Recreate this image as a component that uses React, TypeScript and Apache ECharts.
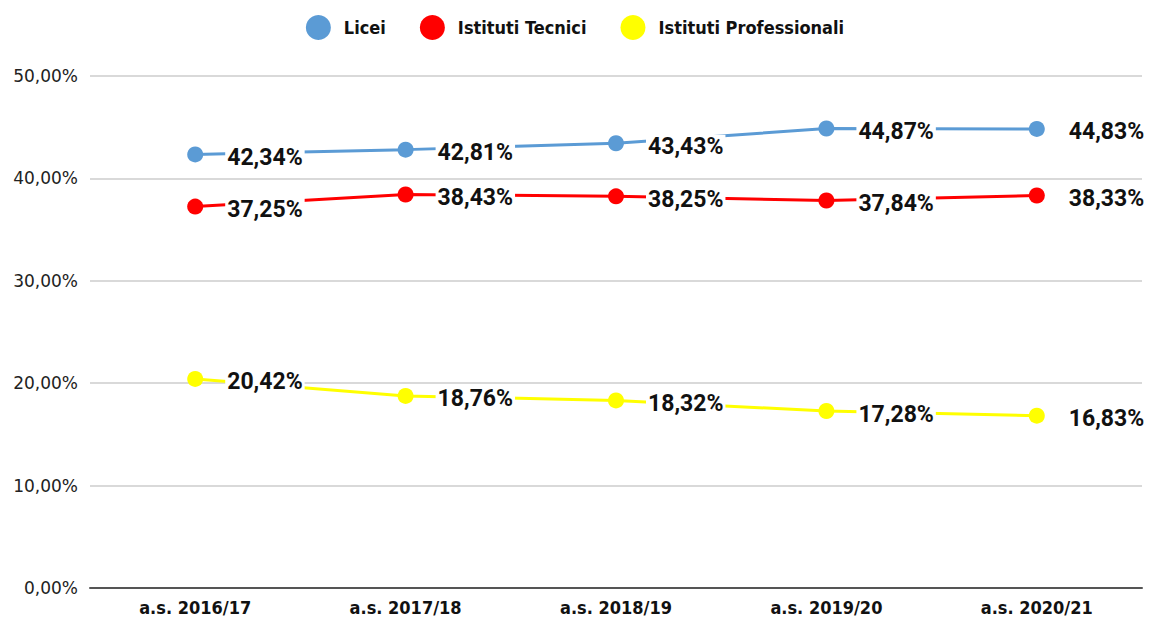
import React, { useEffect, useRef } from "react";
import * as echarts from "echarts";

const categories = ["a.s. 2016/17", "a.s. 2017/18", "a.s. 2018/19", "a.s. 2019/20", "a.s. 2020/21"];
const licei = [42.34, 42.81, 43.43, 44.87, 44.83];
const tecnici = [37.25, 38.43, 38.25, 37.84, 38.33];
const professionali = [20.42, 18.76, 18.32, 17.28, 16.83];
const seriesNames = ["Licei", "Istituti Tecnici", "Istituti Professionali"];
const colors = ["#5b9bd5", "#ff0000", "#ffff00"];

const fmt = (v: number) => v.toFixed(2).replace(".", ",") + "%";
const condensed = "'DejaVu Sans Condensed', 'Liberation Sans', sans-serif";

export default function App() {
  const ref = useRef<HTMLDivElement>(null);
  useEffect(() => {
    const chart = echarts.init(ref.current!, undefined, { renderer: "svg" });
    const mk = (name: string, data: number[], color: string) => ({
      name,
      type: "line",
      data,
      symbol: "circle",
      symbolSize: 16,
      itemStyle: { color },
      lineStyle: { color, width: 3 },
      z: 2,
      label: {
        show: true,
        position: "right",
        distance: 22,
        offset: [0, 3],
        formatter: (p: any) => fmt(p.value),
        fontFamily: "Roboto",
        fontWeight: "bold",
        fontSize: 23,
        color: "#111",
        backgroundColor: "#fff",
        padding: [0, 2],
      },
    });
    chart.setOption({
      animation: false,
      backgroundColor: "#fff",
      color: colors,
      legend: {
        top: 10,
        left: "center",
        itemWidth: 25,
        itemHeight: 25,
        itemGap: 34,
        icon: "circle",
        textStyle: {
          fontFamily: condensed,
          fontWeight: "bold",
          fontSize: 18,
          color: "#111",
          padding: [0, 0, 0, 8],
        },
        data: seriesNames,
      },
      grid: { left: 90, right: 8, top: 76, bottom: 34, containLabel: false },
      xAxis: {
        type: "category",
        data: categories,
        boundaryGap: true,
        axisTick: { show: false },
        axisLine: { lineStyle: { color: "#555", width: 2 } },
        axisLabel: {
          fontFamily: condensed,
          fontWeight: "bold",
          fontSize: 18,
          color: "#111",
          margin: 10,
        },
      },
      yAxis: {
        type: "value",
        min: 0,
        max: 50,
        interval: 10,
        axisLine: { show: false },
        axisTick: { show: false },
        splitLine: { lineStyle: { color: "#cccccc", width: 1.5 } },
        axisLabel: {
          formatter: (v: number) => fmt(v),
          fontFamily: "DejaVu Sans",
          fontSize: 17,
          color: "#222",
          margin: 12,
        },
      },
      series: [
        mk(seriesNames[0], licei, colors[0]),
        mk(seriesNames[1], tecnici, colors[1]),
        mk(seriesNames[2], professionali, colors[2]),
      ],
    });
    return () => chart.dispose();
  }, []);
  return (
    <div
      ref={ref}
      style={{ position: "fixed", left: 0, top: 0, width: 1150, height: 622 }}
    />
  );
}
